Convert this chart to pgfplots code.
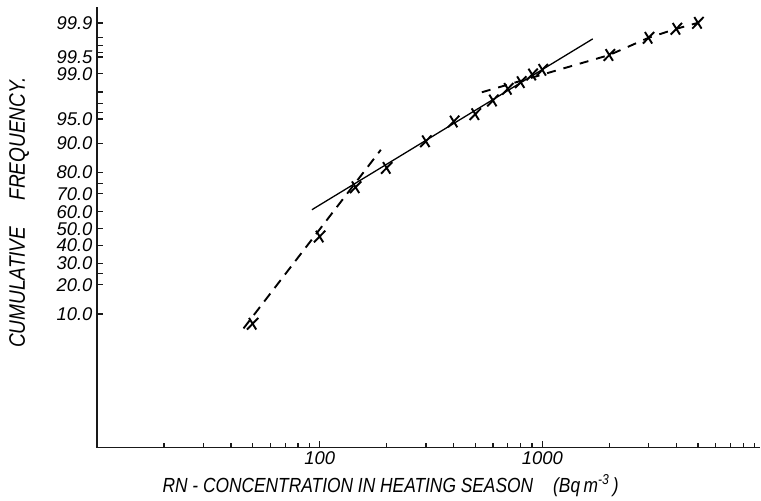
\documentclass[border=0pt]{standalone}
\usepackage{fontspec}
\setmainfont{Liberation Sans}
\newfontfamily\narrowsans[FakeStretch=0.85]{Liberation Sans}
\usepackage{pgfplots}
\pgfplotsset{compat=1.18}

% cumulative frequency (percent) at each concentration class limit
\pgfplotstableread{
conc  cumfreq
50    7.7
100   45.3
145   73.3
200   81.9
300   90.5
400   94.6
500   95.7
600   97.27
700   98.20
800   98.60
900   98.96
1000  99.14
2000  99.54
3000  99.79
4000  99.864
5000  99.899
}\rndata

\begin{document}
\begin{tikzpicture}
\begin{axis}[
  at={(0,0)}, anchor=south west,
  scale only axis, width=663bp, height=440.5bp,
  xmode=log, log basis x=10,
  xmin=10, xmax=9500,
  ymin=0.0504, ymax=99.9543,
  % normal probability scale: percent -> standard normal quantile
  y coord trafo/.code={%
    \pgfmathparse{min(#1,100-#1)/100}\let\probq\pgfmathresult
    \pgfmathparse{sqrt(-2*ln(\probq))}\let\probt\pgfmathresult
    \pgfmathparse{\probt-(2.515517+0.802853*\probt+0.010328*\probt*\probt)/(1+1.432788*\probt+0.189269*\probt*\probt+0.001308*\probt*\probt*\probt)}\let\probr\pgfmathresult
    \pgfmathparse{(2*(#1>=50)-1)*\probr}%
  },
  axis lines=left,
  axis line style={-, line width=1.7bp, black!90},
  tick align=inside,
  major tick length=6.5bp, minor tick length=5bp,
  every tick/.style={black!90, line width=1.3bp},
  xtick={100,1000}, xticklabels={100,1000},
  minor xtick={20,30,40,50,60,70,80,90,200,300,400,500,600,700,800,900,2000,3000,4000,5000,6000,7000,8000,9000},
  ytick={10,20,25,30,40,50,60,70,75,80,90,95,96,97,98,99,99.5,99.6,99.7,99.8,99.9},
  yticklabels={10.0,20.0,,30.0,40.0,50.0,60.0,70.0,,80.0,90.0,95.0,,,,99.0,99.5,,,,99.9},
  xticklabel style={font=\fontsize{18.5}{18.5}\selectfont\itshape, yshift=-1bp},
  yticklabel style={font=\fontsize{18.5}{18.5}\selectfont\itshape, anchor=east, xshift=-1bp},
  clip=false,
]
% fitted line through the middle part of the distribution
\addplot[black, line width=1.3bp] coordinates {(92.3,61.2) (1685,99.779)};
% lower-tail component
\addplot[black, line width=1.9bp, dash pattern=on 10bp off 7bp] coordinates {(45.5,6.73) (188.3,88.16)};
% upper-tail component
\addplot[black, line width=1.9bp, dash pattern=on 9bp off 8bp] coordinates {(535,97.96) (2000,99.54) (3000,99.79) (4000,99.864) (5000,99.899)};
% observed values
\addplot[only marks, mark=x, mark size=8.2bp,
  mark options={solid, black, line width=1.9bp, xscale=0.8, xslant=0.22}]
  table[x=conc, y=cumfreq] {\rndata};
\end{axis}
\node[rotate=90, anchor=base west, font=\narrowsans\fontsize{22.5}{22.5}\selectfont\itshape]
  at (-72bp,96bp) {CUMULATIVE\hspace{26bp}FREQUENCY.};
\node[anchor=base west, font=\narrowsans\fontsize{20.5}{20.5}\selectfont\itshape]
  at (62bp,-44.5bp) {RN - CONCENTRATION IN HEATING SEASON\hspace{20bp}(Bq\,m\textsuperscript{-3}\,)};
\pgfresetboundingbox
\path[use as bounding box] (-97bp,-53.5bp) rectangle (664bp,447.5bp);
\end{tikzpicture}
\end{document}
